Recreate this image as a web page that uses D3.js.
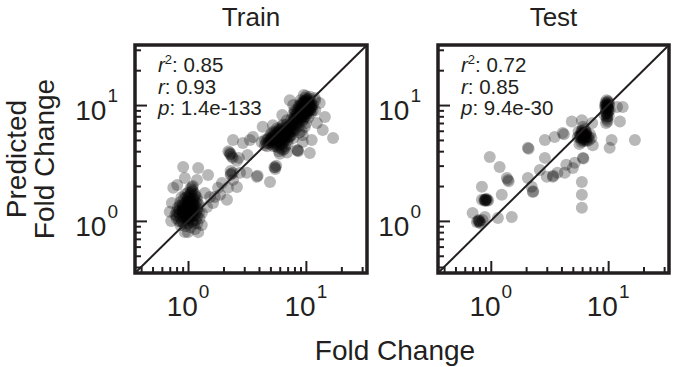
<!DOCTYPE html>
<html>
<head>
<meta charset="utf-8">
<script src="https://cdn.jsdelivr.net/npm/d3@7"></script>
<style>
  body { margin: 0; background: #fff; }
  svg { display: block; }
</style>
</head>
<body>
<script>
const trainPoints = [
  // low cluster, halo
  [0.75,1.93],[0.73,1.43],[0.70,1.2],[0.78,1.13],[0.86,0.92],[1.0,0.8],[1.22,0.8],[1.31,0.92],
  [0.91,2.92],[0.94,2.35],[0.81,2.04],[1.22,2.86],[1.48,2.49],[1.19,2.26],[1.08,1.96],[1.39,1.74],
  [1.54,1.61],[1.45,1.32],[1.31,1.17],[1.69,1.61],[1.87,1.68],[2.14,1.52],[1.63,1.43],
  [0.94,0.8],[0.72,1.0],[1.15,0.85],
  // low cluster, core
  [1.0,1.0],[1.0,1.1],[1.0,1.2],[1.0,1.3],[1.0,1.4],[1.0,1.5],[1.0,1.6],[1.0,0.95],[1.0,1.05],
  [1.0,1.15],[1.0,1.25],[1.0,1.35],[0.9,1.0],[0.9,1.2],[0.9,1.4],[0.9,1.1],[0.9,1.3],[0.85,1.15],
  [0.85,1.35],[0.85,1.25],[0.8,1.2],[0.8,1.05],[1.1,1.0],[1.1,1.2],[1.1,1.4],[1.1,1.6],[1.1,1.1],
  [1.1,1.3],[1.1,1.8],[1.1,2.0],[1.15,1.7],[1.05,1.9],[1.2,1.1],[1.2,1.3],[1.2,1.5],[1.2,1.25],
  [1.25,1.05],[0.95,0.9],[1.05,0.88],[0.92,1.55],[0.95,1.7],[1.05,1.45],[0.95,1.08],[1.08,1.22],
  [0.88,0.98],[1.12,0.95],[1.18,1.6],[0.93,1.28],
  [0.95,1.15],[0.97,1.32],[1.03,1.22],[1.06,1.08],[1.02,1.38],[0.98,1.48],[1.04,1.55],[0.92,1.18],
  [1.12,1.25],[1.08,1.42],[0.88,1.22],[0.96,1.02],[1.14,1.12],[1.02,1.62],[0.9,1.35],[1.06,1.3],
  [0.99,1.2],[1.01,1.1],[0.94,1.4],[1.1,1.5],
  [0.8,1.1],[0.82,1.3],[0.84,1.0],[0.86,1.45],[0.83,1.18],[1.15,1.35],[1.18,1.2],[1.22,1.4],
  [1.16,1.02],[1.24,1.18],[1.2,0.95],[0.88,1.6],[1.13,1.55],[1.17,1.45],[0.86,1.08],[0.92,0.95],
  [1.08,0.98],[1.14,1.65],[1.06,1.75],[0.97,1.6],[1.04,1.68],[1.09,1.85],[1.0,1.75],[0.95,1.25],
  [1.05,1.15],[1.12,1.38],[0.9,1.25],[1.0,1.45],[1.03,1.05],[0.97,1.12],
  // middle
  [2.2,4.0],[2.3,3.8],[2.35,3.6],[2.25,3.9],[2.4,3.5],[2.7,3.5],[2.6,3.3],[2.41,5.0],[2.92,4.7],
  [2.3,2.7],[2.3,2.5],[2.4,2.6],[2.41,2.26],[2.18,1.93],[2.6,1.96],[2.76,2.6],[3.84,2.4],[3.9,2.45],
  [4.96,2.17],[3.16,2.6],[3.35,5.0],[3.55,5.3],[1.8,1.93],[1.94,2.12],[3.2,3.7],
  [2.28,3.75],[2.32,2.55],
  // upper cluster, around 5-7
  [4.2,4.8],[4.5,5.0],[4.8,5.2],[5.0,4.6],[5.0,5.5],[5.2,5.0],[5.5,4.8],[5.5,5.8],[5.8,5.2],
  [6.0,4.5],[6.0,5.5],[6.0,6.2],[6.2,5.0],[6.5,5.5],[6.5,6.0],[6.5,4.8],[6.8,5.2],[7.0,5.8],
  [7.0,6.5],[7.0,4.6],[6.3,5.8],[5.7,6.3],[5.3,5.9],[4.7,4.4],[6.6,4.2],[6.9,3.9],[5.9,4.0],
  [6.4,6.8],[7.2,5.3],[6.1,5.2],[5.6,5.3],[6.7,5.6],[6.0,3.8],[6.2,4.2],[5.8,4.3],
  [5.0,5.0],[5.2,5.3],[5.4,5.1],[5.6,5.6],[5.8,5.8],[6.0,5.9],[6.2,5.7],[6.4,5.3],[6.6,5.0],
  [6.8,5.9],[7.0,6.1],[7.2,6.3],[7.4,6.0],[5.3,4.4],[5.7,4.6],[6.3,4.6],[6.7,4.4],[5.9,5.6],
  [6.5,6.4],[6.1,6.0],[5.1,5.7],[4.9,4.9],[4.6,4.7],
  [4.5,4.5],[4.8,4.7],[5.1,4.8],[5.4,4.6],[5.6,4.4],[5.8,4.8],[6.0,4.9],[6.2,5.3],[6.4,5.0],
  [6.6,5.4],[6.8,5.6],[7.0,5.0],[7.2,5.7],[7.4,5.4],[7.6,5.9],[7.8,6.2],[6.9,6.8],[6.7,6.2],
  [6.3,6.6],[5.9,6.1],[5.5,5.5],[5.3,5.4],[5.1,5.2],[6.1,4.7],[6.5,5.2],[7.1,5.5],[5.7,5.0],
  [5.4,2.9],[5.6,3.0],[5.5,2.8],[5.5,2.9],
  // upper cluster, around 10
  [7.5,6.5],[7.5,7.5],[8,7],[8,8],[8,9],[8.5,7.5],[8.5,8.5],[9,8],[9,9],[9,10],[9,11],[9.5,8.5],
  [9.5,9.5],[9.5,10.5],[10,8],[10,9],[10,10],[10,11],[10,12],[10.5,9],[10.5,10],[10.5,11],
  [11,9.5],[11,10.5],[11,8.5],[11.5,10],[12,9],[12,11],[8.8,9.6],[9.8,10.8],[10.2,9.5],[9.3,7.2],
  [8.2,6.3],[7.8,8.3],[10.8,11.8],[9.6,12.2],[9.4,5.5],[9.2,6.0],[9.8,6.5],[10,7],[9.5,7.5],
  [10.5,7.8],[8.8,5.8],
  [7.6,6.8],[7.8,7.0],[8.0,7.4],[8.2,7.8],[8.4,8.2],[8.6,8.0],[8.8,8.8],[9.0,8.6],[9.2,9.2],
  [9.4,8.8],[9.6,9.4],[9.8,9.0],[10.0,9.8],[10.2,10.2],[10.4,9.6],[10.6,10.4],[10.8,9.8],
  [9.0,9.5],[9.5,10.0],[10.0,10.5],[9.7,8.2],[10.3,8.6],[8.5,9.2],[9.1,10.4],[10.6,11.4],
  [11.2,10.0],[9.9,11.5],
  [8.0,6.6],[8.2,7.0],[8.4,6.8],[8.6,7.2],[8.8,7.6],[9.0,7.4],[9.2,7.8],[9.4,8.2],[9.6,7.9],
  [9.8,8.6],[10.0,8.4],[10.2,8.9],[10.4,8.8],[10.6,9.4],[10.8,9.0],[11.0,9.2],[11.2,9.6],
  [11.4,9.0],[9.3,10.1],[9.6,10.8],[10.2,11.2],[10.4,10.7],[10.7,10.1],[9.1,9.0],[8.9,8.3],
  [8.3,8.6],[8.7,9.8],[8.1,8.8],[7.9,7.6],[7.7,7.2],[7.3,6.2],
  [7.5,5.5],[8,6],[7.3,6.8],[8.7,6.6],[7.8,5.2],
  // upper outliers
  [7.3,11.0],[7.8,10.0],[11.9,11.5],[13.1,10.4],[17,5.2],[13.9,6.1],[11.2,5.0],[9.4,4.8],
  [10.8,3.85],[8.5,4.1],[8.6,4.0],[8.5,4.05],[6.4,4.1],[5.25,6.7],[4.7,5.0],[4.3,6.5],[6.9,7.4],
  [6.3,8.2],[12.4,7.0],[14.5,7.9],[9.4,9.4]
];

const testPoints = [
  [0.76,0.98],[0.8,1.0],[0.85,1.02],[0.82,0.95],[0.78,1.0],[0.70,1.17],[0.89,1.08],
  [0.8,0.98],[0.79,1.02],
  [0.9,1.5],[0.95,1.5],[0.92,1.55],[0.88,1.52],[0.9,1.52],[0.93,1.5],[0.91,1.53],[0.89,1.49],
  [0.84,1.97],[0.84,1.52],[0.98,3.56],[1.19,2.92],
  [1.37,2.35],[1.24,1.68],[1.15,1.06],[1.51,1.08],[1.4,2.26],[1.42,2.2],[2.07,4.27],[2.1,4.2],
  [2.07,2.35],[2.28,1.78],[2.3,1.8],[2.23,1.97],[2.89,3.5],[2.89,5.0],[2.62,2.75],[3.0,2.4],
  [3.38,2.4],[3.4,2.45],[3.7,2.6],[3.5,5.3],[4.1,5.75],[4.2,5.6],[4.27,2.6],[4.4,3.05],[4.9,7.2],
  [5.0,2.86],[5.97,7.4],[6.1,3.5],[6.15,3.45],[5.97,2.17],[5.97,1.68],[5.97,1.3],[5.2,3.17],
  [5.8,5.5],[6.0,5.8],[6.2,5.2],[6.5,5.6],[6.8,5.3],[6.0,5.0],[5.6,5.9],[6.3,6.2],[6.6,4.9],
  [7.0,5.6],[5.9,4.8],[6.2,5.5],[6.4,5.9],[6.9,5.0],[5.5,5.3],[7.2,5.2],[6.1,6.5],[5.7,4.6],
  [6.0,5.4],[6.2,5.6],[6.4,5.4],[5.8,5.2],[6.1,5.7],[6.3,5.1],[5.9,5.5],[6.6,5.3],[6.0,6.0],
  [6.5,5.8],[5.7,5.4],[6.2,4.9],[6.0,5.3],[6.3,5.5],[5.9,5.9],[6.5,5.0],[6.1,5.1],[6.4,5.7],
  [7.4,4.5],
  [9.5,10.5],[9.8,10.0],[10,9.5],[9.6,9.0],[9.9,8.5],[10.2,10.3],[9.4,9.8],[9.7,11.0],[10.1,8.0],
  [9.8,7.5],[9.3,8.2],[10,10.8],[9.6,7.0],[10.3,9.0],
  [9.7,9.8],[9.9,9.3],[9.6,10.2],[10,8.8],[9.8,8.0],[9.5,9.4],[10.1,10.0],[9.7,7.8],[9.9,10.6],
  [9.8,9.6],[9.6,8.6],[10.0,9.2],[9.5,10.0],[9.9,7.2],[9.7,8.4],
  [11.9,9.6],[13.3,9.6],[12.6,7.2],[10.7,5.0],[10.3,4.27],[16.9,5.0],[7.3,7.0]
];

const panelTitles = ["Train", "Test"];
const trainStats = ["0.85", "0.93", "1.4e-133"];
const testStats = ["0.72", "0.85", "9.4e-30"];
const axisDomain = [0.355, 33];
const majorTicks = [1, 10];
const minorTicks = [0.4, 0.5, 0.6, 0.7, 0.8, 0.9, 2, 3, 4, 5, 6, 7, 8, 9, 20, 30];

const width = 673, height = 367;
const plotTop = 45, plotBottom = 273;
const ink = "#231f20";
const font = "'Liberation Sans', Arial, Helvetica, sans-serif";

const panels = [
  { title: panelTitles[0], points: trainPoints, stats: trainStats, x0: 135, x1: 367 },
  { title: panelTitles[1], points: testPoints, stats: testStats, x0: 438, x1: 669 }
];

const svg = d3.select("body").append("svg")
    .attr("width", width)
    .attr("height", height)
    .attr("viewBox", [0, 0, width, height])
    .attr("font-family", font)
    .attr("fill", ink);

const exps = d => Math.round(Math.log10(d));

panels.forEach(p => {
  const x = d3.scaleLog().domain(axisDomain).range([p.x0, p.x1]);
  const y = d3.scaleLog().domain(axisDomain).range([plotBottom, plotTop]);
  const g = svg.append("g");

  g.append("text")
      .attr("x", (p.x0 + p.x1) / 2)
      .attr("y", 26)
      .attr("text-anchor", "middle")
      .attr("font-size", 26)
      .text(p.title);

  g.append("g")
    .selectAll("circle")
    .data(p.points)
    .join("circle")
      .attr("cx", d => x(d[0]))
      .attr("cy", d => y(d[1]))
      .attr("r", 6)
      .attr("fill", "#000")
      .attr("fill-opacity", 0.28);

  // y = x
  g.append("line")
      .attr("x1", x(axisDomain[0])).attr("y1", y(axisDomain[0]))
      .attr("x2", x(axisDomain[1])).attr("y2", y(axisDomain[1]))
      .attr("stroke", ink)
      .attr("stroke-width", 2);

  // ticks, pointing into the box
  const tickSets = [[majorTicks, 12], [minorTicks, 6]];
  tickSets.forEach(([vals, len]) => {
    g.append("g")
        .attr("transform", `translate(0,${plotBottom})`)
        .call(d3.axisBottom(x).tickValues(vals).tickSize(-len).tickFormat(""))
        .call(a => a.select(".domain").remove())
        .call(a => a.selectAll("line").attr("stroke", ink).attr("stroke-width", 2));
    g.append("g")
        .attr("transform", `translate(${p.x0},0)`)
        .call(d3.axisLeft(y).tickValues(vals).tickSize(-len).tickFormat(""))
        .call(a => a.select(".domain").remove())
        .call(a => a.selectAll("line").attr("stroke", ink).attr("stroke-width", 2));
  });

  // tick labels 10^n
  const xl = g.append("g").selectAll("text")
    .data(majorTicks)
    .join("text")
      .attr("x", d => x(d))
      .attr("y", 316)
      .attr("text-anchor", "middle")
      .attr("font-size", 28);
  xl.append("tspan").text("10");
  xl.append("tspan").attr("dy", -18).attr("dx", 1).attr("font-size", 19).text(exps);

  const yl = g.append("g").selectAll("text")
    .data(majorTicks)
    .join("text")
      .attr("x", p.x0 - 17)
      .attr("y", d => y(d) + 15)
      .attr("text-anchor", "end")
      .attr("font-size", 28);
  yl.append("tspan").text("10");
  yl.append("tspan").attr("dy", -18).attr("dx", 1).attr("font-size", 19).text(exps);

  // stats
  const st = g.append("g").attr("font-size", 20.5);
  const l1 = st.append("text").attr("x", p.x0 + 23).attr("y", plotTop + 27);
  l1.append("tspan").attr("font-style", "italic").text("r");
  l1.append("tspan").attr("font-size", 13).attr("dy", -8).text("2");
  l1.append("tspan").attr("dy", 8).text(": " + p.stats[0]);
  const l2 = st.append("text").attr("x", p.x0 + 23).attr("y", plotTop + 49);
  l2.append("tspan").attr("font-style", "italic").text("r");
  l2.append("tspan").text(": " + p.stats[1]);
  const l3 = st.append("text").attr("x", p.x0 + 23).attr("y", plotTop + 70);
  l3.append("tspan").attr("font-style", "italic").text("p");
  l3.append("tspan").text(": " + p.stats[2]);

  // frame
  g.append("rect")
      .attr("x", p.x0)
      .attr("y", plotTop)
      .attr("width", p.x1 - p.x0)
      .attr("height", plotBottom - plotTop)
      .attr("fill", "none")
      .attr("stroke", ink)
      .attr("stroke-width", 3.5);
});

// axis titles
svg.append("text")
    .attr("x", 395)
    .attr("y", 360)
    .attr("text-anchor", "middle")
    .attr("font-size", 28)
    .text("Fold Change");

svg.append("text")
    .attr("transform", "translate(26,159) rotate(-90)")
    .attr("text-anchor", "middle")
    .attr("font-size", 28)
    .text("Predicted");

svg.append("text")
    .attr("transform", "translate(54,159) rotate(-90)")
    .attr("text-anchor", "middle")
    .attr("font-size", 28)
    .text("Fold Change");
</script>
</body>
</html>
